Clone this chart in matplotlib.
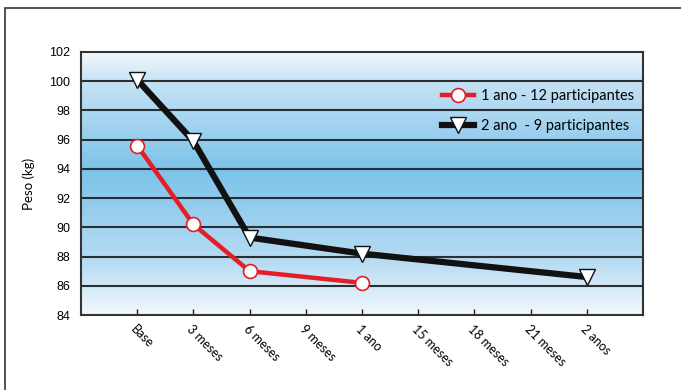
import matplotlib
matplotlib.use("Agg")
import matplotlib.pyplot as plt
import numpy as np
from matplotlib.colors import LinearSegmentedColormap
from matplotlib.patches import Rectangle

categories = ["Base", "3 meses", "6 meses", "9 meses", "1 ano", "15 meses", "18 meses", "21 meses", "2 anos"]
red_idx = [0, 1, 2, 4]
red_vals = [95.6, 90.2, 87.0, 86.2]
black_idx = [0, 1, 2, 4, 8]
black_vals = [100.1, 95.9, 89.3, 88.2, 86.6]
yticks = [84, 86, 88, 90, 92, 94, 96, 98, 100, 102]

fig = plt.figure(figsize=(6.81, 3.90), dpi=100)
ax = fig.add_axes([81/681, 1-315/390, (643-81)/681, (315-52)/390])

# gradient background
cmap = LinearSegmentedColormap.from_list("bg", [(0.0, "#F2F8FD"), (0.12, "#C4E1F4"), (0.45, "#7CC3EA"), (0.8, "#B8DCF2"), (1.0, "#F2F8FD")])
grad = np.linspace(0, 1, 256).reshape(-1, 1)
ax.imshow(grad, cmap=cmap, aspect="auto", extent=[-1, 9, 84, 102], origin="upper", zorder=0)

for y in yticks[1:-1]:
    ax.axhline(y, color="#2a2f33", lw=1.5, zorder=1)

ax.plot(red_idx, red_vals, color="#E31E24", lw=3.2, marker="o", ms=10,
        mfc="white", mec="#E31E24", mew=1.2, zorder=3, label="1 ano - 12 participantes")
ax.plot(black_idx, black_vals, color="#111111", lw=4.5, marker="v", ms=11,
        mfc="white", mec="#111111", mew=1.0, zorder=3, label="2 ano  - 9 participantes")

ax.set_xlim(-1, 9)
ax.set_ylim(84, 102)
ax.set_yticks(yticks)
ax.set_yticklabels([str(v) for v in yticks], fontsize=9, family="Liberation Sans")
ax.set_xticks(range(len(categories)))
ax.set_xticklabels(categories, rotation=-45, ha="left", va="top", fontsize=9,
                   family="Lato", rotation_mode="anchor")
ax.tick_params(axis="y", length=0, pad=8)
ax.tick_params(axis="x", length=4, direction="in", width=1, color="#222222", pad=6)
for s in ax.spines.values():
    s.set_color("#333333")
    s.set_linewidth(1.5)

ax.set_ylabel("Peso (kg)", fontsize=9.5, family="Lato", labelpad=10)

leg = ax.legend(loc="upper right", bbox_to_anchor=(0.985, 0.858), frameon=False,
                prop={"family": "Lato", "size": 10.5}, handlelength=2.2,
                labelspacing=1.05, borderaxespad=0, borderpad=0, handletextpad=0.5)

fig.patches.append(Rectangle((5/681, -0.1), 1.0, 1 - 8/390 + 0.1, transform=fig.transFigure,
                             fill=False, edgecolor="#333333", lw=1.2))

fig.savefig("out.png", dpi=100)
